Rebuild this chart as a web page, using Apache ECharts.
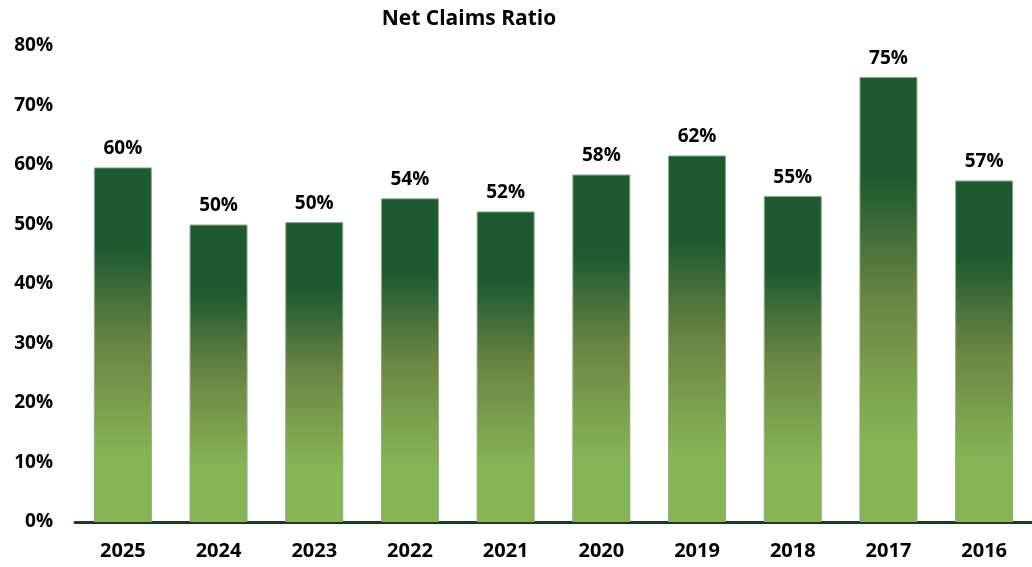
<!DOCTYPE html>
<html lang="en">
<head>
<meta charset="UTF-8">
<title>Net Claims Ratio</title>
<style>
  html, body { margin: 0; padding: 0; background: #fff; }
  #chart { width: 1032px; height: 567px; }
</style>
</head>
<body>
<div id="chart"></div>
<script src="https://cdn.jsdelivr.net/npm/echarts@6/dist/echarts.min.js"></script>
<script>
  const years = ['2025', '2024', '2023', '2022', '2021', '2020', '2019', '2018', '2017', '2016'];
  const claimsRatio = [59.6, 50.0, 50.4, 54.4, 52.2, 58.4, 61.6, 54.8, 74.8, 57.4];
  const yTicks = [0, 10, 20, 30, 40, 50, 60, 70, 80];

  const font = '"Open Sans", "Noto Sans", sans-serif';

  const barFill = new echarts.graphic.LinearGradient(0, 0, 0, 1, [
    { offset: 0, color: '#1e5a30' },
    { offset: 0.23, color: '#1e5a30' },
    { offset: 0.5, color: '#6b8543' },
    { offset: 0.82, color: '#86b555' },
    { offset: 1, color: '#86b555' }
  ]);

  const chart = echarts.init(document.getElementById('chart'));
  chart.setOption({
    animation: false,
    title: {
      text: 'Net Claims Ratio',
      left: 464,
      textAlign: 'center',
      top: 4,
      textStyle: { fontFamily: font, fontWeight: 'bold', fontSize: 21, color: '#000' }
    },
    grid: { left: 75, right: -5, top: 46, bottom: 45, containLabel: false },
    xAxis: {
      type: 'category',
      data: years,
      axisLine: { lineStyle: { color: '#173d20', width: 3 } },
      axisTick: { show: false },
      axisLabel: { fontFamily: font, fontWeight: 'bold', fontSize: 20, color: '#000', margin: 19 }
    },
    yAxis: {
      type: 'value',
      min: yTicks[0],
      max: yTicks[yTicks.length - 1],
      interval: 10,
      splitLine: { show: false },
      axisLine: { show: false },
      axisTick: { show: false },
      axisLabel: {
        fontFamily: font, fontWeight: 'bold', fontSize: 19, color: '#000', margin: 22,
        formatter: v => v + '%'
      }
    },
    series: [{
      type: 'bar',
      data: claimsRatio,
      barWidth: 58,
      itemStyle: { color: barFill, borderColor: '#8faa80', borderWidth: 1 },
      label: {
        show: true,
        position: 'top',
        distance: 9,
        fontFamily: font, fontWeight: 'bold', fontSize: 19, color: '#000',
        formatter: p => Math.round(p.value) + '%'
      }
    }]
  });
</script>
</body>
</html>
